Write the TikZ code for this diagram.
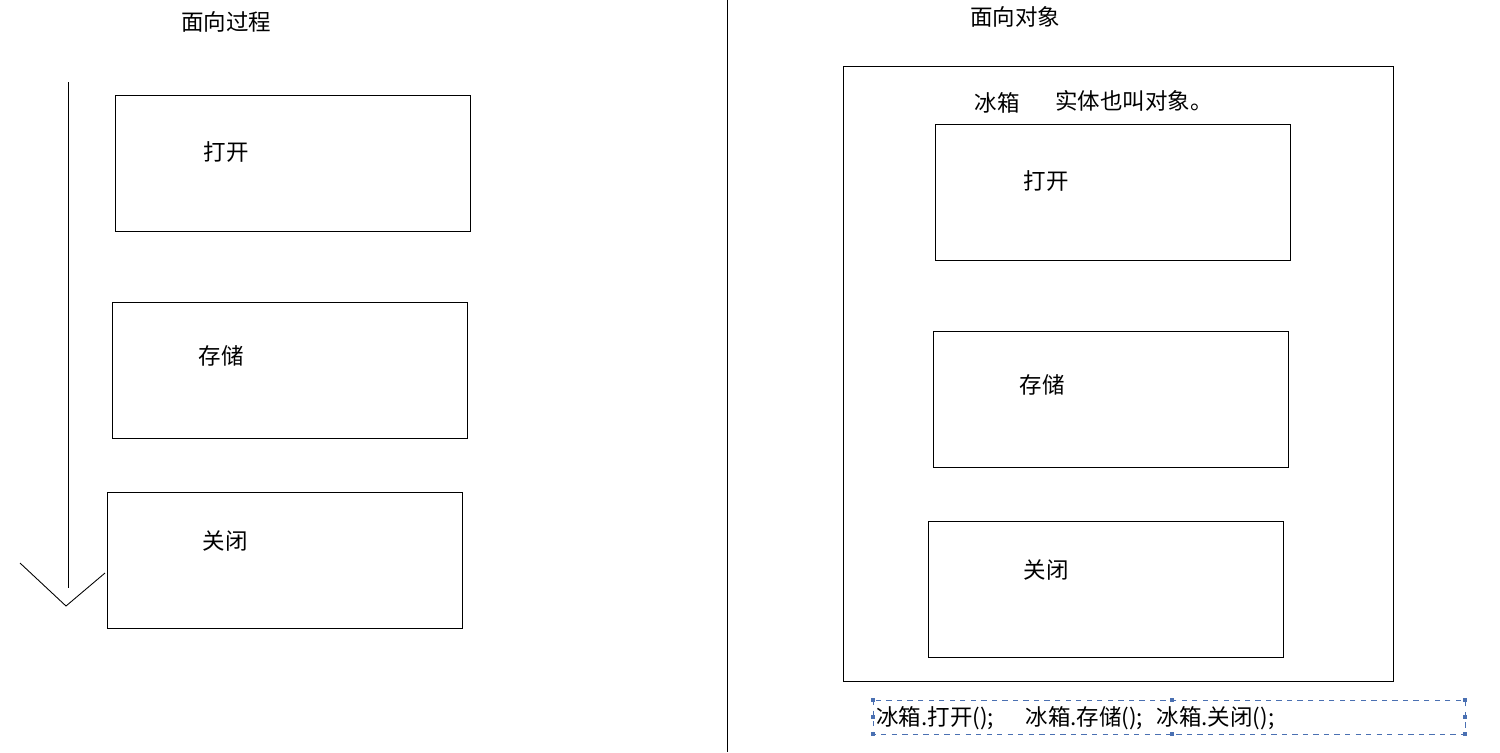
\documentclass[tikz,border=0pt]{standalone}
\usepackage{fontspec}
\newfontfamily\cjk{Noto Sans CJK SC}
\usetikzlibrary{positioning}
\definecolor{selblue}{RGB}{74,112,178}

\begin{document}
\begin{tikzpicture}[x=0.02cm, y=-0.02cm, line width=0.5pt,
    lbl/.style={inner sep=0pt, font=\cjk\fontsize{12.8}{15}\selectfont},
    stepbox/.style={draw, minimum width=7.1cm, minimum height=2.72cm},
    handle/.style={fill=selblue, minimum size=2.5pt, inner sep=0pt}]
    \useasboundingbox (0,0) rectangle (1500,752);

    % Titles and divider
    \node[lbl] (proctitle) at (226,22) {面向过程};
    \node[lbl] (objtitle) at (1015,17) {面向对象};
    \draw (727,0) -- (727,752);

    % Left: procedure steps
    \node[stepbox] (open) at (292.5,163) {};
    \node[stepbox] (store) at (289.5,370) {};
    \node[stepbox] (close) at (284.5,560) {};
    \node[lbl] at (226,152) {打开};
    \node[lbl] at (221,356) {存储};
    \node[lbl] at (225,541) {关闭};

    % Flow arrow
    \coordinate (flowtop) at (68,82);
    \coordinate (flowend) at (68,588);
    \coordinate (tip) at (66,606);
    \draw (flowtop) -- (flowend);
    \draw (20,563) -- (tip) -- (105,573);

    % Right: object with its methods
    \node[draw, minimum width=11cm, minimum height=12.3cm] (fridge) at (1118,373.5) {};
    \node[lbl] (fname) at (997,103) {冰箱};
    \node[lbl] (fnote) at (1134,101) {实体也叫对象。};
    \node[stepbox] (mopen) at (1113,192) {};
    \node[stepbox] (mstore) at (1110.5,399) {};
    \node[stepbox] (mclose) at (1105.5,589) {};
    \node[lbl] at (1046,181) {打开};
    \node[lbl] at (1042,385) {存储};
    \node[lbl] at (1046,570) {关闭};

    % Method calls
    \draw[selblue, dashed, line width=0.5pt] (873,700) rectangle (1465,734);
    \node[lbl, anchor=west] (calls) at (876,718) {冰箱.打开();\hspace{1.4em}冰箱.存储();\hspace{0.6em}冰箱.关闭();};
    \foreach \hx in {873,1172,1465} {
        \node[handle] at (\hx,700) {};
        \node[handle] at (\hx,734) {};
    }
    \node[handle] at (873,717) {};
    \node[handle] at (1465,717) {};
\end{tikzpicture}
\end{document}
